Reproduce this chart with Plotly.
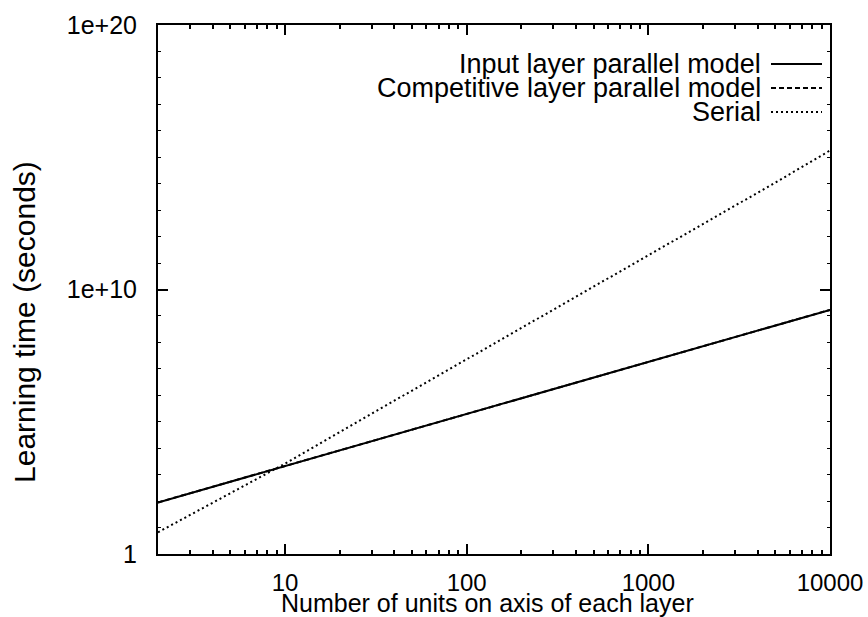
import plotly.graph_objects as go

# Data (log-log chart)
units = [2, 5, 10, 20, 50, 100, 200, 500, 1000, 2000, 5000, 10000]
input_parallel = [89, 540, 2.1e3, 8.1e3, 5.0e4, 1.95e5, 7.6e5, 4.7e6, 1.8e7, 7.1e7, 4.4e8, 1.7e9]
competitive_parallel = [89, 540, 2.1e3, 8.1e3, 5.0e4, 1.95e5, 7.6e5, 4.7e6, 1.8e7, 7.1e7, 4.4e8, 1.7e9]
serial = [6.6, 200, 2.6e3, 4.1e4, 1.5e6, 2.3e7, 3.5e8, 1.3e10, 2.0e11, 3.1e12, 1.1e14, 1.8e15]

series_names = ["Input layer parallel model", "Competitive layer parallel model", "Serial"]
series_dash = ["solid", "5px,3px", "2px,3px"]

x_tickvals = [10, 100, 1000, 10000]
x_ticktext = ["10", "100", "1000", "10000"]
y_tickvals = [1.0, 1e10, 1e20]
y_ticktext = ["1", "1e+10", "1e+20"]

FONT = "Liberation Sans, Arial, Helvetica, sans-serif"

fig = go.Figure()
# draw competitive first so that the solid input line lies on top of it
order = [1, 0, 2]
data = [input_parallel, competitive_parallel, serial]
for i in order:
    fig.add_trace(go.Scatter(
        x=units, y=data[i], mode="lines", name=series_names[i],
        line=dict(color="black", width=2, dash=series_dash[i]),
        showlegend=False,
    ))

x_minor = [float(m * 10 ** k) for k in range(0, 4) for m in range(2, 10)]
y_minor = [10.0 ** k for k in range(0, 21)]

fig.update_xaxes(
    type="log", range=[0.30103, 4],
    tickmode="array", tickvals=x_tickvals, ticktext=x_ticktext,
    ticks="inside", ticklen=10, tickwidth=1.5, tickcolor="black",
    minor=dict(tickmode="array", tickvals=x_minor, ticks="inside", ticklen=4,
               tickwidth=1.5, tickcolor="black", showgrid=False),
    showline=True, linecolor="black", linewidth=2, mirror="ticks",
    showgrid=False, zeroline=False,
    tickfont=dict(family=FONT, size=24, color="black"),
    ticklabelstandoff=6,
)
fig.update_yaxes(
    type="log", range=[0, 20],
    tickmode="array", tickvals=y_tickvals, ticktext=y_ticktext,
    ticks="inside", ticklen=10, tickwidth=1.5, tickcolor="black",
    minor=dict(tickmode="array", tickvals=y_minor, ticks="inside", ticklen=3,
               tickwidth=1, tickcolor="black", showgrid=False),
    showline=True, linecolor="black", linewidth=2, mirror="ticks",
    showgrid=False, zeroline=False,
    tickfont=dict(family=FONT, size=25, color="black"),
    ticklabelstandoff=14,
)

annotations = [
    dict(text="Number of units on axis of each layer", xref="paper", yref="paper",
         x=0.5, y=0, xshift=-7, yshift=-49, xanchor="center", yanchor="middle",
         showarrow=False, font=dict(family=FONT, size=25, color="black")),
    dict(text="Learning time (seconds)", xref="paper", yref="paper",
         x=0, y=0.4386, xshift=-133, xanchor="center", yanchor="middle",
         textangle=-90, showarrow=False, font=dict(family=FONT, size=30, color="black")),
]
shapes = []
# legend (gnuplot style: text right-aligned, sample to the right)
plot_l, plot_r, plot_t, plot_b = 158, 830, 25, 554
W, H = plot_r - plot_l, plot_b - plot_t
legend_rows_px = [64, 88, 112]
text_right_px = 763
for name, dash, ypx in zip(series_names, series_dash, legend_rows_px):
    yp = (plot_b - ypx) / H
    annotations.append(dict(text=name, xref="paper", yref="paper",
                            x=(text_right_px - plot_l) / W, y=yp,
                            xanchor="right", yanchor="middle", showarrow=False,
                            font=dict(family=FONT, size=27, color="black")))
    shapes.append(dict(type="line", xref="paper", yref="paper",
                       x0=(771 - plot_l) / W, x1=(822 - plot_l) / W, y0=yp, y1=yp,
                       line=dict(color="black", width=2, dash=dash)))

fig.update_layout(
    width=868, height=617,
    margin=dict(l=158, r=38, t=25, b=63, autoexpand=False),
    paper_bgcolor="white", plot_bgcolor="white",
    annotations=annotations, shapes=shapes,
    showlegend=False,
)

fig.write_html("out.html")
